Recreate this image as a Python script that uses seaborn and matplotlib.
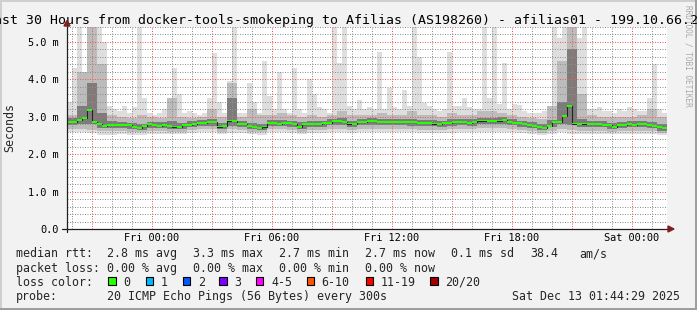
import numpy as np
import pandas as pd
import matplotlib
matplotlib.use("Agg")
import matplotlib.pyplot as plt
import matplotlib.dates as mdates
import matplotlib.ticker as mticker
from matplotlib.patches import Rectangle, Polygon
from matplotlib.lines import Line2D
import seaborn as sns

# ---------------- data (seconds shown in ms scale "m") ----------------
START = "2025-12-11 19:45"          # 30 hours before Sat Dec 13 01:45

# median RTT per 15-minute bin (ms)
median_rtt = [2.87, 2.85, 2.91, 2.96, 3.18, 2.87, 2.81, 2.75, 2.78, 2.79, 2.78, 2.77, 2.79, 2.72, 2.69, 2.75, 2.80, 2.78, 2.76, 2.77,
              2.75, 2.74, 2.72, 2.77, 2.79, 2.81, 2.83, 2.83, 2.86, 2.87, 2.74, 2.75, 2.90, 2.88, 2.80, 2.80, 2.76, 2.72, 2.69, 2.74,
              2.84, 2.83, 2.81, 2.84, 2.84, 2.80, 2.72, 2.80, 2.81, 2.81, 2.81, 2.83, 2.84, 2.88, 2.89, 2.86, 2.82, 2.80, 2.85, 2.87,
              2.88, 2.88, 2.87, 2.86, 2.86, 2.86, 2.85, 2.86, 2.85, 2.85, 2.84, 2.84, 2.84, 2.82, 2.81, 2.83, 2.84, 2.86, 2.86, 2.86,
              2.83, 2.86, 2.90, 2.90, 2.89, 2.89, 2.90, 2.92, 2.86, 2.84, 2.83, 2.80, 2.78, 2.76, 2.73, 2.71, 2.76, 2.86, 2.87, 3.02,
              3.28, 2.82, 2.81, 2.82, 2.80, 2.80, 2.80, 2.79, 2.77, 2.72, 2.77, 2.78, 2.80, 2.79, 2.80, 2.80, 2.78, 2.75, 2.72, 2.70]

# slowest ping per 15-minute bin (ms, clipped at graph top)
ping_max = [3.40, 4.30, 5.40, 4.00, 5.40, 5.40, 5.40, 5.00, 3.30, 3.20, 3.15, 3.30, 3.10, 3.25, 5.40, 3.50, 3.10, 3.05, 3.10, 3.20,
            3.23, 4.30, 3.60, 3.10, 3.15, 3.10, 3.05, 3.10, 3.50, 4.70, 3.40, 3.10, 3.95, 5.40, 3.10, 3.10, 3.90, 3.40, 3.10, 4.50,
            3.55, 3.20, 4.20, 3.20, 3.10, 4.30, 3.20, 3.10, 4.00, 3.60, 3.25, 3.20, 3.10, 5.40, 4.45, 5.40, 3.30, 3.20, 3.45, 3.20,
            3.25, 3.20, 4.74, 3.20, 3.76, 3.25, 3.20, 3.72, 3.30, 5.40, 4.60, 3.36, 3.30, 3.20, 3.15, 3.20, 4.74, 3.30, 3.30, 3.50,
            3.25, 3.20, 3.20, 5.40, 3.50, 5.40, 3.35, 4.43, 3.20, 3.35, 3.32, 3.15, 3.10, 3.10, 3.10, 3.15, 3.20, 5.40, 5.10, 5.40,
            5.40, 5.40, 5.10, 5.40, 3.20, 3.20, 3.25, 3.15, 3.15, 3.10, 3.20, 3.15, 3.25, 3.20, 3.15, 3.15, 3.50, 4.40, 3.20, 3.10]

# per 30-minute bin: fastest ping, medium smoke band, dense core band (ms)
ping_min = [2.60, 2.58, 2.56, 2.52, 2.52, 2.55, 2.52, 2.50, 2.55, 2.55, 2.54, 2.53, 2.56, 2.58, 2.58, 2.54, 2.57, 2.56, 2.53, 2.52,
            2.58, 2.58, 2.57, 2.53, 2.56, 2.57, 2.58, 2.59, 2.56, 2.58, 2.59, 2.58, 2.58, 2.58, 2.58, 2.57, 2.57, 2.56, 2.57, 2.58,
            2.58, 2.60, 2.60, 2.60, 2.58, 2.56, 2.54, 2.51, 2.55, 2.58, 2.55, 2.54, 2.55, 2.55, 2.53, 2.54, 2.55, 2.55, 2.53, 2.50]
mid_lo = [2.68, 2.66, 2.65, 2.62, 2.62, 2.62, 2.60, 2.58, 2.63, 2.62, 2.60, 2.60, 2.64, 2.66, 2.66, 2.60, 2.66, 2.64, 2.60, 2.58,
          2.66, 2.66, 2.65, 2.60, 2.64, 2.65, 2.67, 2.68, 2.64, 2.67, 2.68, 2.67, 2.66, 2.66, 2.66, 2.65, 2.65, 2.64, 2.66, 2.66,
          2.66, 2.69, 2.69, 2.70, 2.66, 2.64, 2.61, 2.57, 2.63, 2.67, 2.64, 2.63, 2.63, 2.63, 2.60, 2.62, 2.63, 2.63, 2.61, 2.56]
mid_hi = [3.05, 4.20, 5.40, 4.40, 3.05, 3.00, 2.98, 3.05, 3.00, 2.98, 3.50, 3.00, 2.98, 3.00, 3.20, 3.00, 3.90, 3.00, 3.20, 3.05,
          3.05, 3.10, 3.05, 3.00, 3.05, 3.00, 3.05, 3.15, 3.05, 3.05, 3.05, 3.10, 3.05, 3.05, 3.15, 3.05, 3.05, 3.00, 3.10, 3.05,
          3.05, 3.15, 3.15, 3.10, 3.05, 3.00, 2.98, 2.95, 3.30, 4.50, 5.40, 3.60, 3.05, 3.00, 3.00, 3.00, 3.00, 3.05, 3.20, 3.00]
core_lo = [2.78, 2.80, 2.80, 2.70, 2.70, 2.70, 2.67, 2.65, 2.71, 2.69, 2.67, 2.67, 2.72, 2.75, 2.76, 2.67, 2.76, 2.72, 2.66, 2.64,
           2.76, 2.75, 2.74, 2.68, 2.73, 2.74, 2.77, 2.79, 2.73, 2.77, 2.79, 2.78, 2.77, 2.77, 2.76, 2.76, 2.75, 2.74, 2.76, 2.77,
           2.76, 2.80, 2.80, 2.81, 2.77, 2.74, 2.69, 2.64, 2.72, 2.80, 2.78, 2.72, 2.72, 2.72, 2.67, 2.70, 2.72, 2.72, 2.69, 2.62]
core_hi = [2.98, 3.30, 3.90, 3.10, 2.88, 2.86, 2.83, 2.82, 2.87, 2.85, 2.88, 2.84, 2.88, 2.91, 2.95, 2.84, 3.50, 2.88, 2.84, 2.82,
           2.92, 2.91, 2.90, 2.86, 2.89, 2.90, 2.94, 2.96, 2.89, 2.94, 2.96, 2.95, 2.94, 2.94, 2.93, 2.92, 2.91, 2.90, 2.93, 2.94,
           2.93, 2.98, 2.97, 2.99, 2.93, 2.90, 2.85, 2.81, 2.92, 3.40, 4.80, 2.95, 2.88, 2.88, 2.84, 2.86, 2.88, 2.88, 2.86, 2.80]

title = "Last 30 Hours from docker-tools-smokeping to Afilias (AS198260) - afilias01 - 199.10.66.2"
rtt_stats = ["2.8 ms avg", "3.3 ms max", "2.7 ms min", "2.7 ms now", "0.1 ms sd", "38.4", "am/s"]
loss_stats = ["0.00 % avg", "0.00 % max", "0.00 % min", "0.00 % now"]
loss_labels = ["0", "1", "2", "3", "4-5", "6-10", "11-19", "20/20"]
loss_colors = ["#26ff00", "#00b8ff", "#0059ff", "#7e00ff", "#ff00ff", "#ff5500", "#ff0000", "#a10000"]
probe_text = "20 ICMP Echo Pings (56 Bytes) every 300s"
stamp = "Sat Dec 13 01:44:29 2025"

# ---------------- figure ----------------
sns.set_style("white")
plt.rcParams["font.family"] = ["DejaVu Sans Mono", "DejaVu Sans"]

W, H = 697, 310
fig = plt.figure(figsize=(W / 100, H / 100), dpi=100)
fig.patch.set_facecolor("#f2f2f2")


def fx(p):
    return p / W


def fy(p):
    return 1 - p / H


ax = fig.add_axes([fx(67), fy(229), 600 / W, 202 / H])
ax.set_facecolor("white")

t15 = mdates.date2num(pd.date_range(START, periods=len(median_rtt) + 1, freq="15min").to_pydatetime())
t30 = mdates.date2num(pd.date_range(START, periods=len(ping_min) + 1, freq="30min").to_pydatetime())


def ext(a):
    a = np.asarray(a, dtype=float)
    return np.append(a, a[-1])


ax.fill_between(t15, ext(np.repeat(ping_min, 2)), ext(ping_max), step="post",
                color="#dedede", lw=0, zorder=1)
ax.fill_between(t30, ext(mid_lo), ext(mid_hi), step="post", color="#bcbcbc", lw=0, zorder=1.1)
ax.fill_between(t30, ext(core_lo), ext(core_hi), step="post", color="#7c7c7c", lw=0, zorder=1.2)

med = ext(median_rtt)
sns.lineplot(x=t15, y=med, drawstyle="steps-post", color="#222222", lw=0.8,
             ax=ax, zorder=2.6, estimator=None, legend=False)
ax.fill_between(t15, med - 0.025, med + 0.025, step="post", color="#26ff00", lw=0, zorder=3)

ax.set_xlim(t15[0], t15[-1])
ax.set_ylim(0, 5.4)

ax.xaxis.set_major_locator(mdates.HourLocator(byhour=range(0, 24, 3)))
ax.xaxis.set_minor_locator(mdates.HourLocator())


def xfmt(v, pos):
    d = mdates.num2date(v)
    return d.strftime("%a %H:%M") if d.hour % 6 == 0 else ""


ax.xaxis.set_major_formatter(mticker.FuncFormatter(xfmt))
ax.yaxis.set_major_locator(mticker.MultipleLocator(1.0))
ax.yaxis.set_minor_locator(mticker.MultipleLocator(0.2))
ax.yaxis.set_major_formatter(mticker.FuncFormatter(
    lambda v, p: "0.0" if abs(v) < 1e-9 else f"{v:.1f} m"))

ax.set_axisbelow(False)
ax.grid(True, which="minor", color=(0.56, 0.56, 0.56, 0.45), ls=(0, (1, 1.5)), lw=0.72)
ax.grid(True, which="major", color=(0.95, 0.35, 0.35, 0.30), ls=(0, (1, 1.5)), lw=0.72)

ax.tick_params(axis="x", which="major", length=2.5, width=0.72, color="#1f1f1f",
               direction="out", labelsize=7.35, pad=0.6, labelcolor="black")
ax.tick_params(axis="x", which="minor", length=0)
ax.tick_params(axis="y", which="major", length=2.2, width=0.72, color="#1f1f1f",
               direction="out", labelsize=7.35, pad=4.0, labelcolor="black")
ax.tick_params(axis="y", which="minor", length=1.5, width=0.72, color="#1f1f1f", direction="out")
for s in ax.spines.values():
    s.set_visible(False)
ax.set_xlabel("")
ax.set_ylabel("")

# axis lines and arrows
fig.add_artist(Line2D([fx(62), fx(669)], [fy(229), fy(229)], color="#1f1f1f", lw=0.9, zorder=10))
fig.add_artist(Line2D([fx(67), fx(67)], [fy(232), fy(24)], color="#1f1f1f", lw=0.9, zorder=10))
fig.add_artist(Polygon([[fx(668), fy(226)], [fx(674), fy(229)], [fx(668), fy(232)]], closed=True,
                       transform=fig.transFigure, color="#801f1f", zorder=11))
fig.add_artist(Polygon([[fx(64), fy(26)], [fx(67), fy(20.5)], [fx(70), fy(26)]], closed=True,
                       transform=fig.transFigure, color="#801f1f", zorder=11))

# 3D frame
fig.add_artist(Rectangle((0, fy(2)), 1, 2 / H, transform=fig.transFigure, color="#cfcfcf", lw=0))
fig.add_artist(Rectangle((0, 0), 2 / W, 1, transform=fig.transFigure, color="#cfcfcf", lw=0))
fig.add_artist(Rectangle((0, 0), 1, 2 / H, transform=fig.transFigure, color="#9e9e9e", lw=0))
fig.add_artist(Rectangle((fx(695), 0), 2 / W, 1, transform=fig.transFigure, color="#9e9e9e", lw=0))

# title, unit label, watermark
fig.text(fx(-14.3), fy(24.3), title, ha="left", va="baseline", fontsize=9.5, color="black")
fig.text(fx(10), fy(128), "Seconds", rotation=90, ha="center", va="center", fontsize=8.4)
fig.text(fx(688), fy(5), "RRDTOOL / TOBI OETIKER", rotation=270, ha="center", va="top",
         fontsize=5.6, color="#aaaaaa")

# legend rows
LS = 8.4
col_x = [107.3, 193.3, 279.3, 365.3, 451.3, 530.3, 579.3]
fig.text(fx(16), fy(257.3), "median rtt:", fontsize=LS, va="baseline")
for s, xx in zip(rtt_stats, col_x):
    fig.text(fx(xx), fy(257.3), s, fontsize=LS, va="baseline")
fig.text(fx(16), fy(271.7), "packet loss:", fontsize=LS, va="baseline")
for s, xx in zip(loss_stats, col_x):
    fig.text(fx(xx), fy(271.7), s, fontsize=LS, va="baseline")
fig.text(fx(16), fy(285.7), "loss color:", fontsize=LS, va="baseline")
sq_x = [108.3, 145.7, 182.7, 219.3, 256.0, 306.7, 366.0, 430.3]
for lab, col, xx in zip(loss_labels, loss_colors, sq_x):
    fig.add_artist(Rectangle((fx(xx), fy(284.7)), 7.4 / W, 7.4 / H, transform=fig.transFigure,
                             facecolor=col, edgecolor="black", lw=0.8))
    fig.text(fx(xx + 15), fy(285.7), lab, fontsize=LS, va="baseline")
fig.text(fx(16), fy(300), "probe:", fontsize=LS, va="baseline")
fig.text(fx(107.3), fy(300), probe_text, fontsize=LS, va="baseline")
fig.text(fx(680), fy(300), stamp, fontsize=LS, va="baseline", ha="right")

fig.savefig("out.png", dpi=100, facecolor=fig.get_facecolor())
